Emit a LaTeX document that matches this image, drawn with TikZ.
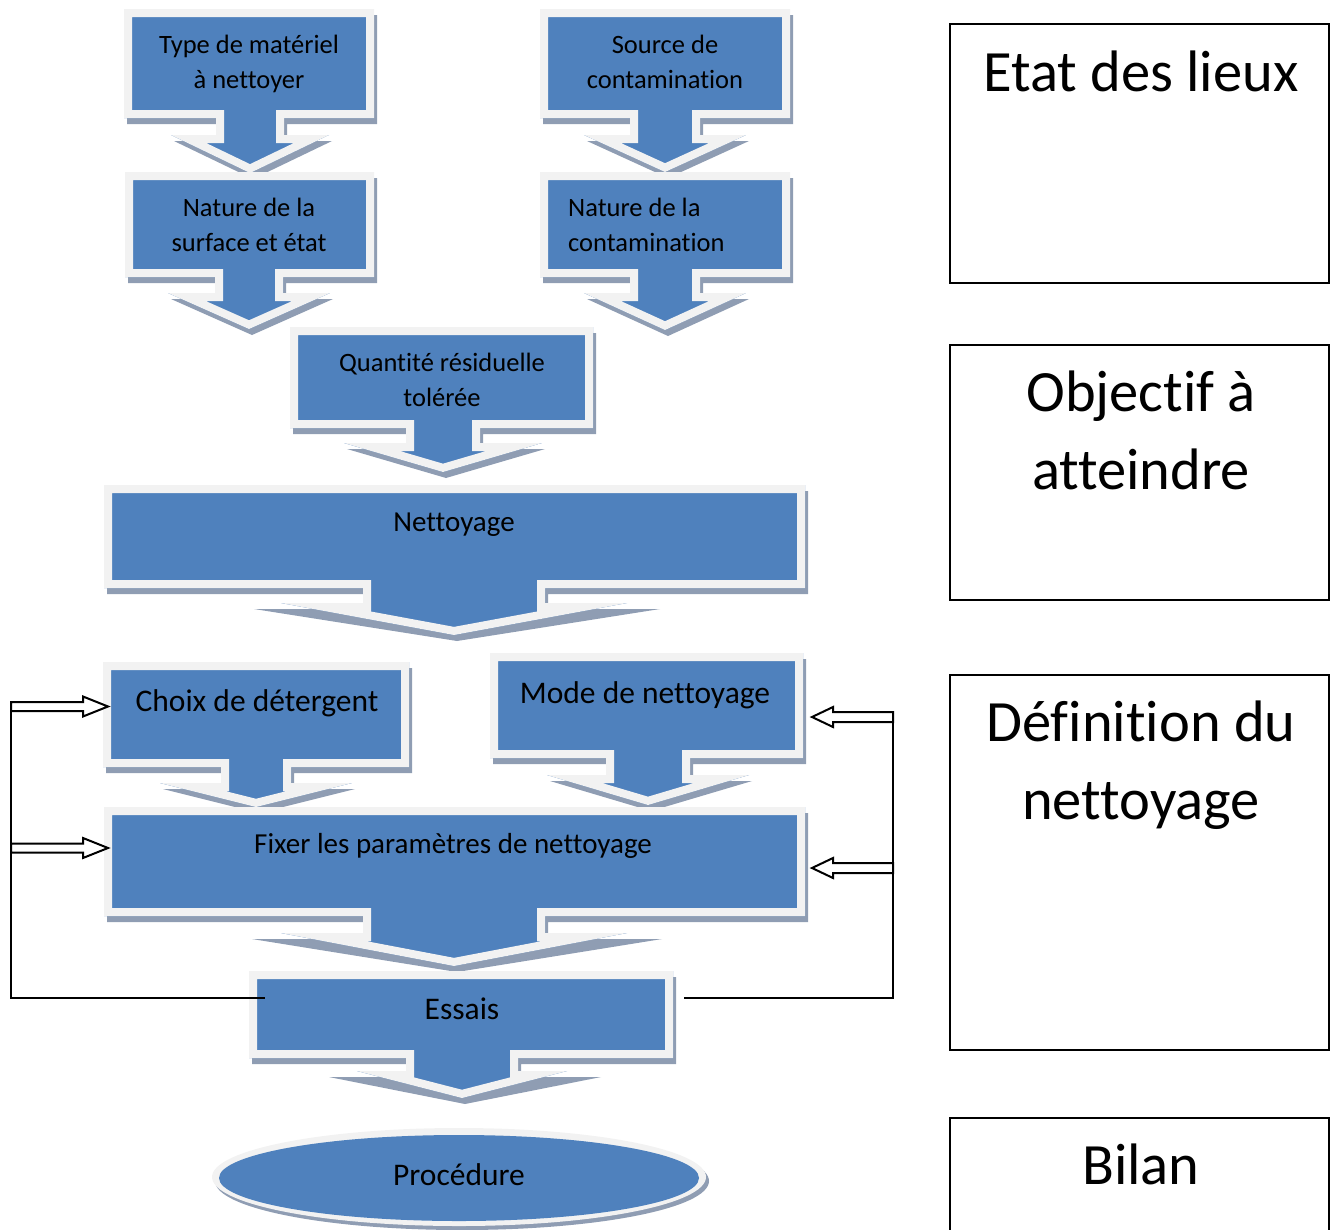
\documentclass[tikz,border=0pt]{standalone}
\usepackage{fontspec}
\setmainfont{Carlito}[Ligatures=NoCommon]
\definecolor{cblue}{HTML}{4F81BD}
\definecolor{clight}{HTML}{F2F2F2}
\definecolor{cshadow}{HTML}{8F9DB3}
\tikzset{
  lbl/.style={inner sep=0pt, align=center, text=black},
  fs/.style={font=\fontsize{26.5}{34.5}\selectfont},
  fm/.style={font=\fontsize{29}{35}\selectfont},
  fl/.style={font=\fontsize{31.5}{38}\selectfont},
  fx/.style={font=\fontsize{58.5}{78}\selectfont},
  frame/.style={draw=black, line width=2pt},
  fb/.style={draw=black, line width=2pt, fill=white, line join=miter},
  fline/.style={draw=black, line width=1.8pt},
}
% x1 y1 x2 y2 cx stemhalf headtop headhalf tip ; \shx = extra shadow head width
\newcommand\callout[9]{%
  \fill[cshadow, shift={(3,6)}] (#1,#2) -- (#3,#2) -- (#3,#4) -- (#5+#6,#4) -- (#5+#6,#7) -- (#5+#8+\shx,#7) -- (#5,#9) -- (#5-#8-\shx,#7) -- (#5-#6,#7) -- (#5-#6,#4) -- (#1,#4) -- cycle;
  \begin{scope}
    \clip (#1,#2) -- (#3,#2) -- (#3,#4) -- (#5+#6,#4) -- (#5+#6,#7) -- (#5+#8,#7) -- (#5,#9) -- (#5-#8,#7) -- (#5-#6,#7) -- (#5-#6,#4) -- (#1,#4) -- cycle;
    \fill[cblue] (#1,#2) -- (#3,#2) -- (#3,#4) -- (#5+#6,#4) -- (#5+#6,#7) -- (#5+#8,#7) -- (#5,#9) -- (#5-#8,#7) -- (#5-#6,#7) -- (#5-#6,#4) -- (#1,#4) -- cycle;
    \draw[clight, line width=16pt, line join=miter] (#1,#2) -- (#3,#2) -- (#3,#4) -- (#5+#6,#4) -- (#5+#6,#7) -- (#5+#8,#7) -- (#5,#9) -- (#5-#8,#7) -- (#5-#6,#7) -- (#5-#6,#4) -- (#1,#4) -- cycle;
  \end{scope}}
% right-pointing hollow arrow: x0 tip y
\newcommand\harrowR[3]{\draw[fb] (#1,#3-4.5) -- (#2-25,#3-4.5) -- (#2-25,#3-10) -- (#2,#3) -- (#2-25,#3+10) -- (#2-25,#3+4.5) -- (#1,#3+4.5) -- cycle;}
% left-pointing hollow arrow: x0 tip y
\newcommand\harrowL[3]{\draw[fb] (#1,#3-5) -- (#2+21,#3-5) -- (#2+21,#3-10) -- (#2,#3) -- (#2+21,#3+10) -- (#2+21,#3+5) -- (#1,#3+5) -- cycle;}
\begin{document}
\begin{tikzpicture}[x=1pt,y=-1pt]
\useasboundingbox (0,0) rectangle (1330,1229);
\def\shx{0}
\callout{124}{9}{374}{118}{250}{34}{135}{79}{173}
\callout{540}{9}{790}{118}{665}{35}{135}{81}{172}
\callout{125}{172}{374}{277}{249}{34}{293}{81}{329}
\callout{540}{172}{790}{277}{665}{35}{293}{81}{330}
\callout{290}{327}{593}{428}{443}{37}{443}{99}{472}
\def\shx{30}
\callout{104}{485}{805}{588}{454}{91}{603}{173}{635}
\def\shx{0}
\callout{103}{662}{409}{767}{256}{35}{783}{96}{807}
\callout{490}{653}{803}{758}{648}{42}{775}{101}{805}
\def\shx{32}
\callout{104}{807}{805}{916}{454}{91}{933}{173}{966}
\def\shx{31}
\callout{249}{971}{673}{1058}{462}{56}{1071}{105}{1098}
% ellipse
\fill[cshadow] (462,1181) ellipse [x radius=247, y radius=49];
\fill[clight] (459,1177) ellipse [x radius=247, y radius=49];
\fill[cblue] (459,1178) ellipse [x radius=240, y radius=43];
% texts (multi-line nodes: base = last line baseline)
\node[lbl,fs,anchor=base] (t1) at (249,88) {Type de matériel\\à nettoyer};
\node[lbl,fs,anchor=base] (t2) at (665,88) {Source de\\contamination};
\node[lbl,fs,anchor=base] (t3) at (249,251) {Nature de la\\surface et état};
\node[lbl,fs,anchor=base west,align=left] (t4) at (568,251) {Nature de la\\contamination};
\node[lbl,fs,anchor=base] (t5) at (442,406) {Quantité résiduelle\\tolérée};
\node[lbl,fm,anchor=base] (t6) at (454,531) {Nettoyage};
\node[lbl,fl,anchor=base] (t7) at (257,711) {Choix de détergent};
\node[lbl,fl,anchor=base] (t8) at (645,703) {Mode de nettoyage};
\node[lbl,fm,anchor=base] (t9) at (453,853) {Fixer les paramètres de nettoyage};
\node[lbl,fl,anchor=base] (t10) at (462,1019) {Essais};
\node[lbl,fl,anchor=base] (t11) at (459,1185) {Procédure};
% right frames
\draw[frame] (950,24) rectangle (1329,283);
\draw[frame] (950,345) rectangle (1329,600);
\draw[frame] (950,675) rectangle (1329,1050);
\draw[frame] (950,1235) -- (950,1118) -- (1329,1118) -- (1329,1235);
\node[lbl,fx,anchor=base] (r1) at (1141,91) {Etat des lieux};
\node[lbl,fx,anchor=base] (r2) at (1141,489) {Objectif à\\atteindre};
\node[lbl,fx,anchor=base] (r3) at (1141,819) {Définition du\\nettoyage};
\node[lbl,fx,anchor=base] (r4) at (1141,1184) {Bilan};
% feedback
\coordinate (fbL) at (11,702);
\coordinate (essL) at (265,998);
\coordinate (fbR) at (893,722);
\coordinate (essR) at (684,998);
\draw[fline] (fbL) |- (essL);
\draw[fline] (fbR) |- (essR);
\harrowR{11}{108}{706.5}
\harrowR{11}{108}{848}
\harrowL{893}{812}{717}
\harrowL{893}{812}{868}
\end{tikzpicture}
\end{document}
